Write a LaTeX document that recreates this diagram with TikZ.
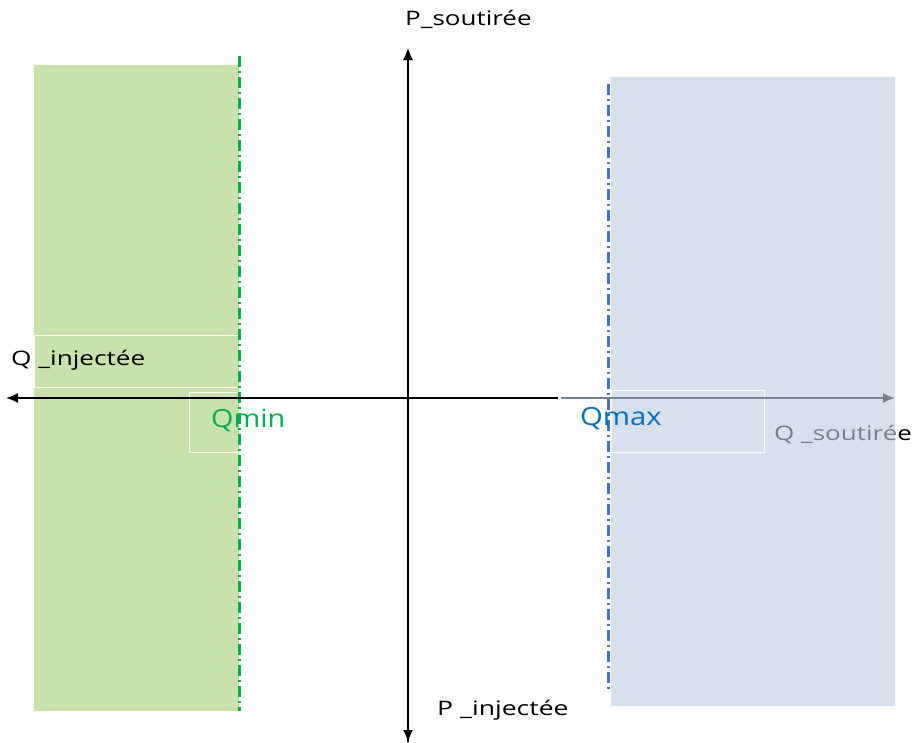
\documentclass[tikz,border=0pt]{standalone}
\usepackage{fontspec}
\setmainfont{Open Sans}
\usetikzlibrary{arrows.meta}
\definecolor{zonegreen}{RGB}{199,226,170}
\definecolor{zoneblue}{RGB}{214,224,239}
\definecolor{limgreen}{RGB}{0,176,80}
\definecolor{limblue}{RGB}{68,114,196}
\definecolor{txtblue}{RGB}{0,112,192}
\definecolor{axisgray}{RGB}{118,128,142}
\newcommand{\wide}[2]{\scalebox{#1}[1]{#2}}
\tikzset{
  axis/.style={line width=1.4pt, -{Latex[length=12pt,width=10pt]}},
  limit/.style={line width=3pt, dash pattern=on 11pt off 4pt on 2pt off 4pt},
  labelbox/.style={draw=white, line width=1pt},
  lbl/.style={inner sep=0pt, anchor=base west, font=\fontsize{20}{24}\selectfont},
  bound/.style={inner sep=0pt, anchor=base west, font=\fontsize{25}{30}\selectfont},
}
\begin{document}
\begin{tikzpicture}[x=1pt,y=-1pt]
\useasboundingbox (0,0) rectangle (915,742);
% operating zones
\fill[zonegreen] (34,65) rectangle (239,711);
\fill[zoneblue] (611,77) rectangle (895,706);
% text frames
\draw[labelbox] (34,335) rectangle (239,387);
\draw[labelbox] (189,392) rectangle (245,452);
\draw[labelbox] (611,390) rectangle (764,452);
% reactive power limits
\draw[limit, limgreen] (239,56) -- (239,711);
\draw[limit, limblue] (608,84) -- (608,690);
% axes
\coordinate (o) at (408,398);
\coordinate (pup) at (408,48);
\coordinate (pdown) at (408,742);
\coordinate (qleft) at (6,398);
\coordinate (qsplit) at (558,398);
\coordinate (qsplitb) at (561,398);
\coordinate (qright) at (895,398);
\draw[axis] (pdown) -- (pup);
\draw[axis] (o) -- (pdown);
\draw[axis] (qsplit) -- (qleft);
\draw[axis, axisgray] (qsplitb) -- (qright);
% labels
\node[lbl] (ps) at (405,25) {\wide{1.30}{P\_soutirée}};
\node[lbl] (pi) at (437,715) {\wide{1.33}{P \_injectée}};
\node[lbl] (qi) at (11,365) {\wide{1.31}{Q \_injectée}};
\node[lbl] (qs) at (774,440) {\wide{1.30}{\textcolor{axisgray}{Q \_soutiré}e}};
\node[bound, text=limgreen] (qmin) at (211,427) {\wide{1.15}{Qmin}};
\node[bound, text=txtblue] (qmax) at (580,425) {\wide{1.17}{Qmax}};
\end{tikzpicture}
\end{document}
